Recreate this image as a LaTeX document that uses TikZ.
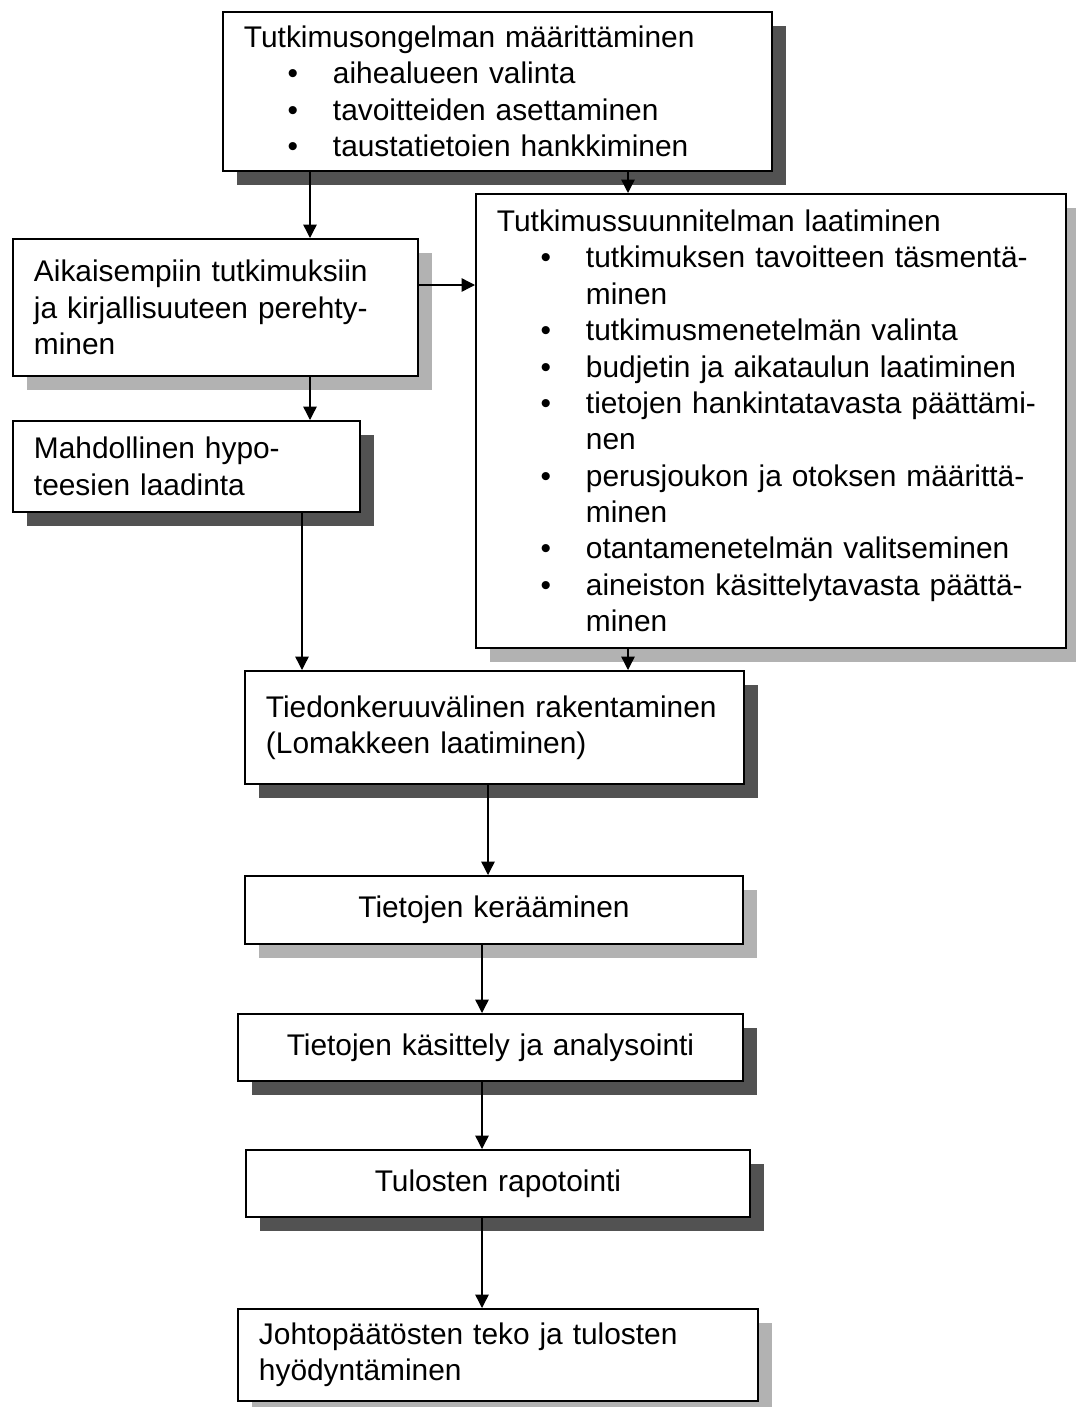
\documentclass[tikz,border=0pt]{standalone}
\usepackage{fontspec}
\setmainfont{Liberation Sans}
\usetikzlibrary{arrows.meta,positioning,shadows}

% bullet item with hanging indent
\newcommand{\itm}[1]{\par\noindent\hangindent=1.78cm\hangafter=0 \llap{\textbullet\hspace{0.7cm}}#1\par}

\begin{document}
\begin{tikzpicture}[
            box/.style={rectangle, draw, line width=1.1pt, fill=white, anchor=north west, align=left, inner xsep=0.42cm, inner ysep=0pt, font={\fontsize{17}{20.7}\selectfont}},
            darkshade/.style={drop shadow={shadow xshift=0.28cm, shadow yshift=-0.28cm, fill=black!68, opacity=1}},
            lightshade/.style={drop shadow={shadow xshift=0.28cm, shadow yshift=-0.28cm, fill=black!30, opacity=1}},
            arrow/.style={-{Triangle[length=0.27cm, width=0.27cm]}, line width=0.8pt}
        ]
            \path[use as bounding box, fill=white] (0,0) rectangle (21.5,-28.14);

            \node[box, darkshade, text width=10.14cm, minimum height=3.18cm] (prob) at (4.44,-0.22) {\noindent Tutkimusongelman määrittäminen\itm{aihealueen valinta}\itm{tavoitteiden asettaminen}\itm{taustatietoien hankkiminen}};
            \node[box, lightshade, text width=7.26cm, minimum height=2.74cm] (lit) at (0.24,-4.76) {Aikaisempiin tutkimuksiin\\ja kirjallisuuteen perehty-\\minen};
            \node[box, lightshade, text width=10.96cm, minimum height=9.08cm] (plan) at (9.50,-3.86) {\noindent Tutkimussuunnitelman laatiminen\itm{tutkimuksen tavoitteen täsmentä-\newline minen}\itm{tutkimusmenetelmän valinta}\itm{budjetin ja aikataulun laatiminen}\itm{tietojen hankintatavasta päättämi-\newline nen}\itm{perusjoukon ja otoksen määrittä-\newline minen}\itm{otantamenetelmän valitseminen}\itm{aineiston käsittelytavasta päättä-\newline minen}};
            \node[box, darkshade, text width=6.10cm, minimum height=1.82cm] (hyp) at (0.24,-8.40) {Mahdollinen hypo-\\teesien laadinta};
            \node[box, darkshade, text width=9.14cm, minimum height=2.26cm] (tool) at (4.88,-13.40) {Tiedonkeruuvälinen rakentaminen\\(Lomakkeen laatiminen)\par\vspace{0.4cm}};
            \node[box, lightshade, align=center, text width=9.12cm, minimum height=1.36cm] (collect) at (4.88,-17.50) {Tietojen kerääminen};
            \node[box, darkshade, align=center, text width=9.26cm, minimum height=1.34cm] (analysis) at (4.74,-20.26) {Tietojen käsittely ja analysointi};
            \node[box, darkshade, align=center, text width=9.24cm, minimum height=1.34cm] (report) at (4.90,-22.98) {Tulosten rapotointi};
            \node[box, lightshade, text width=9.56cm, minimum height=1.84cm] (concl) at (4.74,-26.16) {Johtopäätösten teko ja tulosten\\hyödyntäminen};

            \draw[arrow] ([xshift=1.76cm]prob.south west) coordinate (p1) -- (p1 |- lit.north);
            \draw[arrow] ([xshift=8.12cm]prob.south west) coordinate (p2) -- (p2 |- plan.north);
            \draw[arrow] ([yshift=-0.94cm]lit.north east) coordinate (p3) -- (p3 -| plan.west);
            \draw[arrow] ([xshift=5.96cm]lit.south west) coordinate (p4) -- (p4 |- hyp.north);
            \draw[arrow] ([xshift=5.80cm]hyp.south west) coordinate (p5) -- (p5 |- tool.north);
            \draw[arrow] ([xshift=3.06cm]plan.south west) coordinate (p6) -- (p6 |- tool.north);
            \draw[arrow] ([xshift=4.88cm]tool.south west) coordinate (p7) -- (p7 |- collect.north);
            \draw[arrow] ([xshift=4.76cm]collect.south west) coordinate (p8) -- (p8 |- analysis.north);
            \draw[arrow] ([xshift=4.90cm]analysis.south west) coordinate (p9) -- (p9 |- report.north);
            \draw[arrow] ([xshift=4.74cm]report.south west) coordinate (p10) -- (p10 |- concl.north);
        \end{tikzpicture}
\end{document}
